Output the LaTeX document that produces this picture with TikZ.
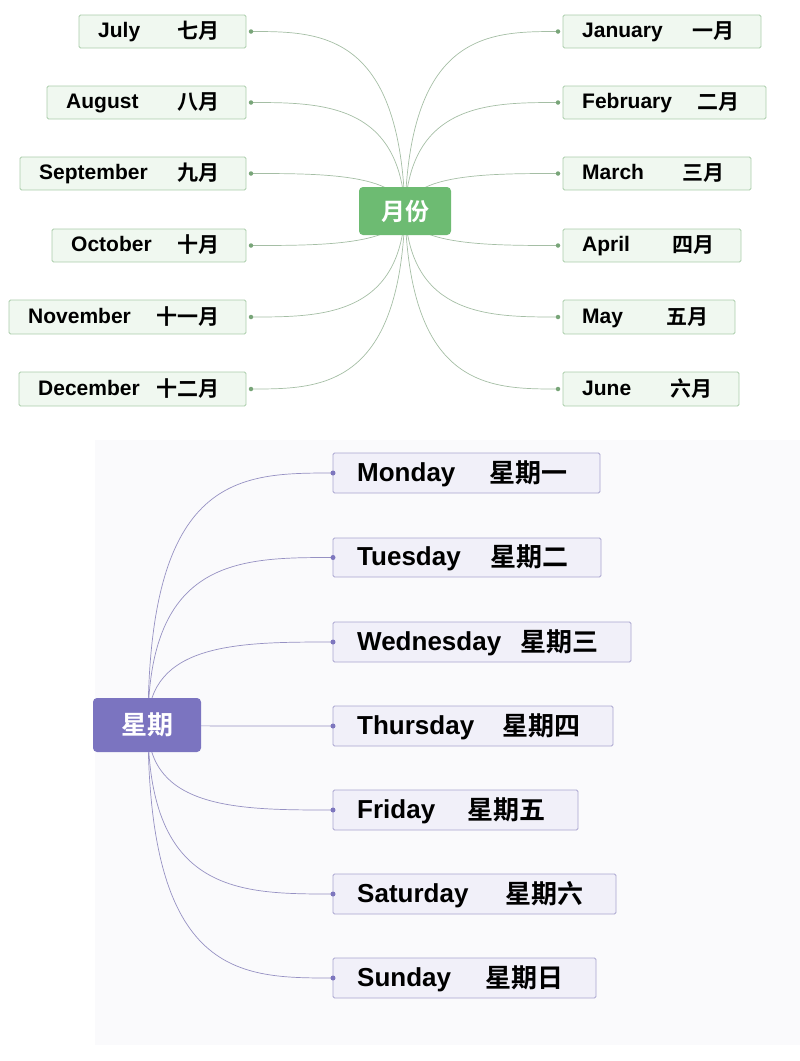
\documentclass[tikz,border=0pt]{standalone}
\usepackage{fontspec}
\setmainfont{Liberation Sans}
\newfontfamily\cjk{Noto Sans CJK SC}[BoldFont=* Bold]
\definecolor{wbg}{RGB}{250,250,252}
\definecolor{mgreen}{RGB}{109,187,114}
\definecolor{wpurple}{RGB}{123,116,192}
\begin{document}
\begin{tikzpicture}[x=1pt,y=-1pt,
  mbox/.style={draw={rgb,255:red,170;green,205;blue,170}, fill={rgb,255:red,240;green,248;blue,240}, rounded corners=1.5pt, line width=0.8pt, inner sep=0},
  wbox/.style={draw={rgb,255:red,170;green,165;blue,208}, fill={rgb,255:red,241;green,240;blue,249}, rounded corners=1.5pt, line width=0.8pt, inner sep=0},
  mline/.style={draw={rgb,255:red,165;green,190;blue,165}, line width=0.7pt},
  wline/.style={draw={rgb,255:red,150;green,145;blue,195}, line width=0.7pt},
  mdot/.style={circle, fill={rgb,255:red,120;green,165;blue,120}, inner sep=0, minimum size=4.5pt},
  wdot/.style={circle, fill={rgb,255:red,125;green,118;blue,190}, inner sep=0, minimum size=5pt},
  mtxt/.style={font=\bfseries\fontsize{21}{23}\selectfont, inner sep=0},
  wtxt/.style={font=\bfseries\fontsize{26}{28}\selectfont, inner sep=0}]
\useasboundingbox (0,0) rectangle (800,1061);
\fill[wbg] (95,440) rectangle (800,1045);
% months
\coordinate (mc) at (405,211);
\foreach \n/\xa/\xb/\ya/\yb/\en/\zh/\side in {
 jul/79/246/15/48/July/七月/L, aug/47/246/86/119/August/八月/L, sep/20/246/157/190/September/九月/L,
 oct/52/246/229/262/October/十月/L, nov/9/246/300/334/November/十一月/L, dec/19/246/372/406/December/十二月/L,
 jan/563/761/15/48/January/一月/R, feb/563/766/86/119/February/二月/R, mar/563/751/157/190/March/三月/R,
 apr/563/741/229/262/April/四月/R, may/563/735/300/334/May/五月/R, jun/563/739/372/406/June/六月/R}{
  \pgfmathsetmacro{\ym}{(\ya+\yb)/2}
  \if\side L
    \coordinate (\n) at (\xb+5,\ym);
    \draw[mline] (mc) .. controls (400,\ym) and (320,\ym) .. (\n);
  \else
    \coordinate (\n) at (\xa-5,\ym);
    \draw[mline] (mc) .. controls (410,\ym) and (490,\ym) .. (\n);
  \fi
  \node[mbox, minimum width=\xb-\xa, minimum height=\yb-\ya] (\n b) at ({(\xa+\xb)/2},\ym) {};
  \node[mdot] at (\n) {};
  \node[mtxt, anchor=base west] at (\xa+19,\ym+6) {\en};
  \node[mtxt, anchor=base east] at (\xb-26,\ym+7) {\cjk\bfseries\zh};
}
\fill[mgreen, rounded corners=4pt] (359,187) rectangle (451,235);
\node[text=white, font=\cjk\bfseries\fontsize{24}{26}\selectfont] (mcen) at (405,211) {月份};
% weeks
\coordinate (wc) at (148,725);
\foreach \n/\xb/\ya/\yb/\en/\zh in {
 mon/600/453/493/Monday/星期一, tue/601/538/577/Tuesday/星期二, wed/631/622/662/Wednesday/星期三,
 thu/613/706/746/Thursday/星期四, fri/578/790/830/Friday/星期五, sat/616/874/914/Saturday/星期六,
 sun/596/958/998/Sunday/星期日}{
  \pgfmathsetmacro{\ym}{(\ya+\yb)/2}
  \coordinate (\n) at (333,\ym);
  \draw[wline] (wc) .. controls (148,\ym) and (240,\ym) .. (\n);
  \node[wbox, minimum width=\xb-333, minimum height=\yb-\ya] (\n b) at ({(333+\xb)/2},\ym) {};
  \node[wdot] at (\n) {};
  \node[wtxt, anchor=base west] at (357,\ym+8) {\en};
  \node[wtxt, anchor=base east] at (\xb-32,\ym+9) {\cjk\bfseries\zh};
}
\fill[wpurple, rounded corners=4pt] (93,698) rectangle (201,752);
\node[text=white, font=\cjk\bfseries\fontsize{26}{28}\selectfont] (wcen) at (147,725) {星期};
\end{tikzpicture}
\end{document}
